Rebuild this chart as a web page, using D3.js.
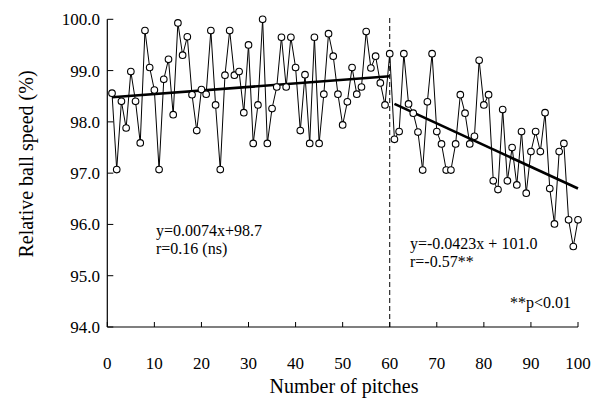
<!DOCTYPE html>
<html>
<head>
<meta charset="utf-8">
<script src="https://cdn.jsdelivr.net/npm/d3@7/dist/d3.min.js"></script>
<style>
    body { margin: 0; background: #fff; }
    text { font-family: "Liberation Serif", "Times New Roman", serif; fill: #000; }
</style>
</head>
<body>
<svg id="chart" width="602" height="402"></svg>
<script>
"use strict";


//
// Data
//

// relative ball speed (%) for pitch 1 .. 100
var ballSpeed = [
    98.56, 97.07, 98.40, 97.88, 98.98, 98.40, 97.59, 99.78, 99.06, 98.62,
    97.07, 98.83, 99.22, 98.14, 99.93, 99.30, 99.66, 98.53, 97.83, 98.63,
    98.54, 99.78, 98.33, 97.07, 98.91, 99.78, 98.91, 98.98, 98.18, 99.50,
    97.58, 98.33, 100.00, 97.58, 98.26, 98.68, 99.65, 98.68, 99.65, 99.06,
    97.83, 98.92, 97.58, 99.65, 97.58, 98.54, 99.72, 99.28, 98.54, 97.94,
    98.39, 99.06, 98.54, 98.68, 99.76, 99.05, 99.28, 98.76, 98.33, 99.33,
    97.66, 97.81, 99.33, 98.35, 98.17, 97.80, 97.06, 98.39, 99.33, 97.81,
    97.57, 97.06, 97.06, 97.57, 98.53, 98.17, 97.57, 97.72, 99.20, 98.33,
    98.53, 96.85, 96.68, 98.24, 96.85, 97.50, 96.77, 97.81, 96.61, 97.42,
    97.81, 97.42, 98.18, 96.70, 96.01, 97.42, 97.58, 96.09, 95.57, 96.09
];

// fitted lines, end points as drawn
var fitBefore = [{ x: 1, y: 98.48 }, { x: 60, y: 98.89 }];
var fitAfter = [{ x: 61, y: 98.35 }, { x: 100, y: 96.70 }];

var xTicks = [0, 10, 20, 30, 40, 50, 60, 70, 80, 90, 100];
var yTicks = [94, 95, 96, 97, 98, 99, 100];

var splitPitch = 60;

var notes = [
    { x: 156, y: 236, text: "y=0.0074x+98.7" },
    { x: 156, y: 254, text: "r=0.16 (ns)" },
    { x: 410, y: 249, text: "y=-0.0423x + 101.0" },
    { x: 410, y: 267, text: "r=-0.57**" },
    { x: 510, y: 308, text: "**p<0.01" }
];


//
// Scales
//

var svg = d3.select("#chart");

var xScale = d3.scaleLinear().domain([0, 100]).range([107.3, 578]);
var yScale = d3.scaleLinear().domain([94, 100]).range([327, 19.3]);

var points = ballSpeed.map(function (v, i) { return { x: i + 1, y: v }; });


//
// Axes
//

var axes = svg.append("g");

axes.append("line")
    .attr("x1", xScale(0)).attr("x2", xScale(100))
    .attr("y1", yScale(94)).attr("y2", yScale(94))
    .attr("stroke", "#000").attr("stroke-width", 1.2);

axes.append("line")
    .attr("x1", xScale(0)).attr("x2", xScale(0))
    .attr("y1", yScale(94)).attr("y2", yScale(100))
    .attr("stroke", "#000").attr("stroke-width", 1.2);

axes.selectAll(".xtick")
    .data(xTicks)
    .enter().append("line")
    .attr("class", "xtick")
    .attr("x1", function (d) { return xScale(d); })
    .attr("x2", function (d) { return xScale(d); })
    .attr("y1", yScale(94))
    .attr("y2", yScale(94) - 5)
    .attr("stroke", "#000");

axes.selectAll(".xlabel")
    .data(xTicks)
    .enter().append("text")
    .attr("class", "xlabel")
    .attr("x", function (d) { return xScale(d); })
    .attr("y", 369)
    .attr("text-anchor", "middle")
    .style("font-size", "17px")
    .text(function (d) { return d; });

axes.selectAll(".ytick")
    .data(yTicks)
    .enter().append("line")
    .attr("class", "ytick")
    .attr("x1", xScale(0))
    .attr("x2", xScale(0) + 6)
    .attr("y1", function (d) { return yScale(d); })
    .attr("y2", function (d) { return yScale(d); })
    .attr("stroke", "#000");

axes.selectAll(".ylabel")
    .data(yTicks)
    .enter().append("text")
    .attr("class", "ylabel")
    .attr("x", 100)
    .attr("y", function (d) { return yScale(d); })
    .attr("dy", "0.35em")
    .attr("text-anchor", "end")
    .style("font-size", "17px")
    .text(function (d) { return d3.format(".1f")(d); });

svg.append("text")
    .attr("x", 344)
    .attr("y", 393)
    .attr("text-anchor", "middle")
    .style("font-size", "20px")
    .text("Number of pitches");

svg.append("text")
    .attr("transform", "translate(33," + 164 + ") rotate(-90)")
    .attr("text-anchor", "middle")
    .style("font-size", "20px")
    .text("Relative ball speed (%)");


//
// Split marker
//

svg.append("line")
    .attr("x1", xScale(splitPitch)).attr("x2", xScale(splitPitch))
    .attr("y1", yScale(94)).attr("y2", yScale(100.06))
    .attr("stroke", "#000")
    .attr("stroke-width", 1)
    .attr("stroke-dasharray", "5,3");


//
// Series
//

var line = d3.line()
    .x(function (d) { return xScale(d.x); })
    .y(function (d) { return yScale(d.y); });

svg.append("path")
    .datum(points)
    .attr("d", line)
    .attr("fill", "none")
    .attr("stroke", "#000")
    .attr("stroke-width", 1);

[fitBefore, fitAfter].forEach(function (fit) {
    svg.append("path")
        .datum(fit)
        .attr("d", line)
        .attr("fill", "none")
        .attr("stroke", "#000")
        .attr("stroke-width", 2.6);
});

svg.selectAll(".dot")
    .data(points)
    .enter().append("circle")
    .attr("class", "dot")
    .attr("cx", function (d) { return xScale(d.x); })
    .attr("cy", function (d) { return yScale(d.y); })
    .attr("r", 3.3)
    .attr("fill", "#fff")
    .attr("stroke", "#000")
    .attr("stroke-width", 1.1);


//
// Annotations
//

svg.selectAll(".note")
    .data(notes)
    .enter().append("text")
    .attr("class", "note")
    .attr("x", function (d) { return d.x; })
    .attr("y", function (d) { return d.y; })
    .style("font-size", "16px")
    .text(function (d) { return d.text; });

</script>
</body>
</html>
